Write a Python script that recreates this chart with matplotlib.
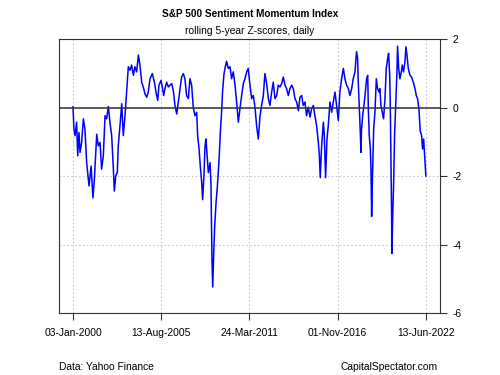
import numpy as np
import pandas as pd
import matplotlib
matplotlib.use('Agg')
import matplotlib.pyplot as plt

plt.rcParams['font.family'] = ['Liberation Sans', 'DejaVu Sans']

# decimal year, z-score
years = [
    2000.00, 2000.06, 2000.13, 2000.23, 2000.30, 2000.38, 2000.45, 2000.55, 2000.66, 2000.76,
    2000.87, 2001.02, 2001.15, 2001.27, 2001.36, 2001.51, 2001.61, 2001.72, 2001.82, 2001.93,
    2002.04, 2002.14, 2002.25, 2002.35, 2002.46, 2002.57, 2002.63, 2002.72, 2002.82, 2002.88,
    2002.99, 2003.10, 2003.20, 2003.31, 2003.41, 2003.52, 2003.63, 2003.73, 2003.84, 2003.94,
    2004.05, 2004.16, 2004.26, 2004.37, 2004.47, 2004.58, 2004.69, 2004.79, 2004.90, 2005.05,
    2005.18, 2005.28, 2005.39, 2005.47, 2005.60, 2005.68, 2005.77, 2005.85, 2005.96, 2006.07,
    2006.17, 2006.28, 2006.38, 2006.49, 2006.60, 2006.70, 2006.81, 2006.91, 2007.02, 2007.12,
    2007.23, 2007.34, 2007.44, 2007.55, 2007.65, 2007.76, 2007.87, 2007.93, 2008.02, 2008.10,
    2008.19, 2008.25, 2008.33, 2008.40, 2008.46, 2008.55, 2008.61, 2008.72, 2008.78, 2008.84,
    2008.89, 2008.95, 2009.01, 2009.10, 2009.18, 2009.29, 2009.37, 2009.46, 2009.52, 2009.61,
    2009.67, 2009.77, 2009.88, 2009.99, 2010.09, 2010.20, 2010.31, 2010.41, 2010.52, 2010.62,
    2010.73, 2010.84, 2010.94, 2011.05, 2011.15, 2011.26, 2011.37, 2011.47, 2011.58, 2011.68,
    2011.79, 2011.90, 2012.00, 2012.11, 2012.21, 2012.32, 2012.43, 2012.53, 2012.64, 2012.74,
    2012.85, 2012.96, 2013.06, 2013.17, 2013.28, 2013.38, 2013.49, 2013.59, 2013.70, 2013.80,
    2013.91, 2014.02, 2014.12, 2014.23, 2014.34, 2014.44, 2014.55, 2014.65, 2014.76, 2014.86,
    2014.97, 2015.08, 2015.18, 2015.29, 2015.39, 2015.50, 2015.61, 2015.67, 2015.73, 2015.82,
    2015.93, 2015.99, 2016.07, 2016.16, 2016.24, 2016.35, 2016.46, 2016.56, 2016.67, 2016.77,
    2016.88, 2016.98, 2017.09, 2017.20, 2017.30, 2017.41, 2017.52, 2017.62, 2017.73, 2017.83,
    2017.94, 2018.04, 2018.11, 2018.15, 2018.21, 2018.28, 2018.32, 2018.36, 2018.43, 2018.51,
    2018.58, 2018.68, 2018.75, 2018.79, 2018.85, 2018.92, 2018.96, 2019.00, 2019.04, 2019.13,
    2019.21, 2019.30, 2019.38, 2019.47, 2019.53, 2019.59, 2019.68, 2019.76, 2019.85, 2019.93,
    2020.02, 2020.08, 2020.15, 2020.19, 2020.23, 2020.27, 2020.29, 2020.33, 2020.40, 2020.46,
    2020.53, 2020.61, 2020.65, 2020.72, 2020.80, 2020.89, 2020.95, 2021.03, 2021.12, 2021.18,
    2021.25, 2021.33, 2021.44, 2021.54, 2021.65, 2021.76, 2021.84, 2021.92, 2022.01, 2022.09,
    2022.18, 2022.24, 2022.31, 2022.39, 2022.43, 2022.45,
]
zscores = [
    0.02, -0.63, -0.82, -0.43, -1.41, -0.73, -1.31, -1.02, -0.33, -0.63,
    -1.61, -2.29, -1.71, -2.64, -2.10, -0.78, -1.12, -1.02, -1.80, -1.41,
    -0.24, -0.33, 0.03, -0.43, -0.82, -1.80, -2.44, -2.00, -1.90, -1.12,
    -0.53, 0.11, -0.82, -0.24, 0.45, 1.19, 1.09, 1.24, 0.94, 1.19,
    1.04, 1.53, 1.24, 0.74, 0.60, 0.40, 0.30, 0.45, 0.84, 0.99,
    0.74, 0.45, 0.21, 0.65, 0.79, 0.60, 0.35, 0.55, 0.74, 0.60,
    0.65, 0.70, 0.50, 0.06, -0.19, 0.16, 0.55, 0.89, 0.99, 0.84,
    0.35, 0.26, 0.84, 0.65, 0.01, -0.24, -0.14, -0.82, -1.21, -1.71,
    -2.20, -2.69, -2.00, -1.12, -0.92, -1.51, -1.90, -1.61, -2.25, -4.40,
    -5.24, -4.29, -3.52, -2.79, -2.34, -1.56, -0.77, -0.09, 0.50, 0.99,
    1.14, 1.35, 1.14, 1.19, 0.84, 1.04, 0.65, 0.16, -0.43, -0.04,
    0.35, 0.70, 0.84, 1.04, 1.14, 0.65, 0.26, 0.35, 0.01, -0.53,
    -0.92, -0.24, 0.06, 0.35, 0.99, 0.70, 0.26, 0.06, 0.45, 0.74,
    0.26, 0.35, 0.65, 0.60, 0.70, 0.89, 0.65, 0.55, 0.35, 0.55,
    0.65, 0.55, 0.26, 0.16, -0.09, 0.30, 0.35, 0.06, 0.16, -0.24,
    0.01, -0.28, -0.04, 0.06, -0.24, -0.53, -1.02, -1.36, -2.05, -1.12,
    -0.43, -0.82, -2.05, -0.92, -0.53, 0.16, -0.14, 0.16, 0.45, 0.06,
    -0.38, 0.45, 0.84, 1.14, 0.84, 0.65, 0.55, 0.35, 0.55, 0.84,
    1.04, 1.63, 1.43, 0.74, 0.06, -0.73, -1.31, -0.63, -0.24, 0.06,
    0.35, 0.84, 0.94, -0.04, -0.82, -1.21, -1.80, -3.18, -2.29, -0.63,
    -0.14, 0.84, 0.55, 0.45, 0.55, 0.06, -0.14, -0.33, 0.26, 1.14,
    1.43, 1.58, 0.94, -0.04, -1.51, -3.08, -4.26, -3.37, -2.20, -0.82,
    0.06, 1.04, 1.79, 1.14, 0.84, 1.04, 1.24, 1.04, 1.33, 1.77,
    1.53, 1.14, 0.94, 0.89, 0.74, 0.55, 0.35, 0.26, -0.04, -0.68,
    -0.82, -1.21, -0.92, -1.51, -1.85, -2.00,
]
tick_dates = ['2000-01-03', '2005-08-13', '2011-03-24', '2016-11-01', '2022-06-13']
y_ticks = [2, 0, -2, -4, -6]


def to_date(yr):
    yr = np.asarray(yr, dtype=float)
    return pd.Timestamp('2000-01-01') + pd.to_timedelta((yr - 2000) * 365.25, unit='D')


dates = to_date(years)

fig = plt.figure(figsize=(5, 3.75), dpi=100)
ax = fig.add_axes([0.118, 0.1653, 0.762, 0.7307])

ax.plot(dates, zscores, color='#0000FF', lw=1.1)
ax.axhline(0, color='#333333', lw=1.1)

ticks = pd.to_datetime(tick_dates)
ax.set_xticks(ticks)
ax.set_xticklabels([t.strftime('%d-%b-%Y') for t in ticks])
ax.set_xlim(to_date(1999.11), to_date(2023.35))
ax.set_ylim(-6, 2)
ax.set_yticks(y_ticks)
ax.set_yticklabels([str(v) for v in y_ticks])

ax.yaxis.tick_right()
ax.grid(True, color='#c8c8c8', linestyle=(0, (1.5, 2)), lw=0.8)
ax.tick_params(axis='both', labelsize=7.4, color='#333333', length=5, width=0.8)
ax.tick_params(axis='x', pad=6)
ax.tick_params(axis='y', pad=4)
for s in ax.spines.values():
    s.set_color('#333333')
    s.set_linewidth(0.8)

fig.text(0.5, 0.962, 'S&P 500 Sentiment Momentum Index', ha='center', va='center',
         fontsize=7.2, fontweight='bold')
fig.text(0.5, 0.918, 'rolling 5-year Z-scores, daily', ha='center', va='center', fontsize=7.4)
fig.text(0.118, 0.021, 'Data: Yahoo Finance', ha='left', va='center', fontsize=7.4)
fig.text(0.876, 0.021, 'CapitalSpectator.com', ha='right', va='center', fontsize=7.4)

fig.savefig('out.png', dpi=100)
